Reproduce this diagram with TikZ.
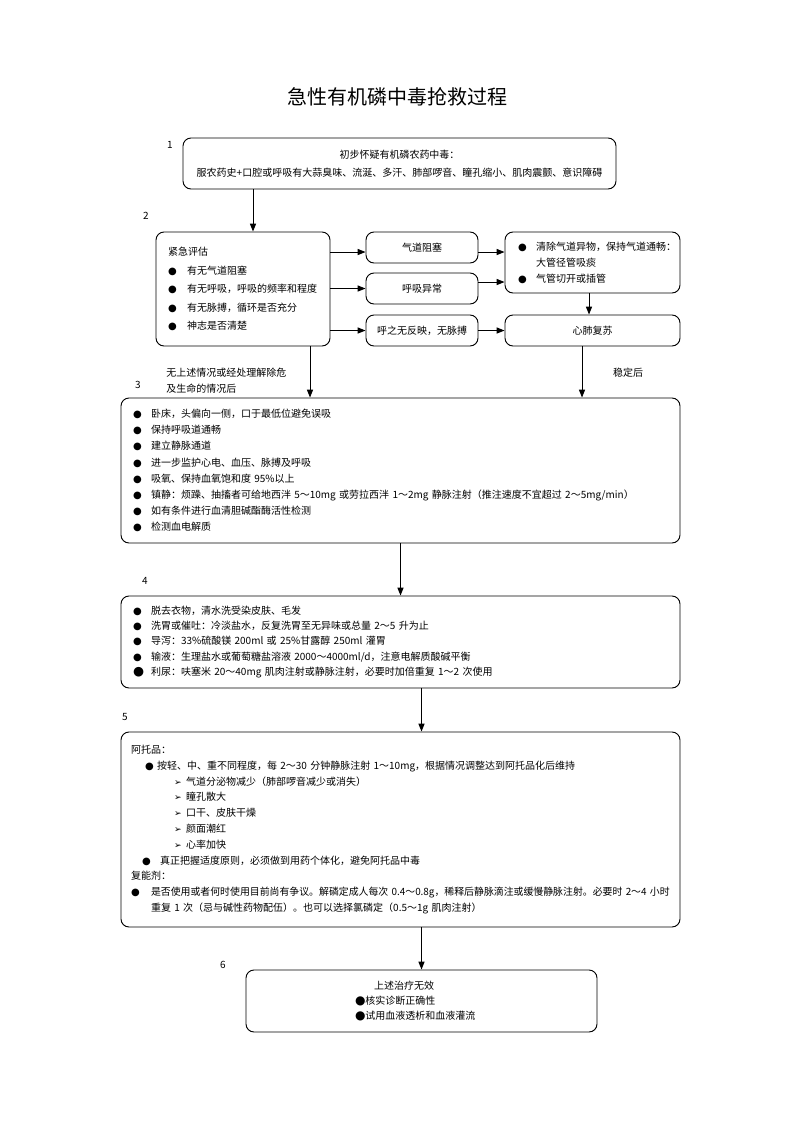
\documentclass[tikz,border=0pt]{standalone}
\usepackage{fontspec}
\setmainfont{Noto Sans CJK SC}
\newfontfamily\symf{DejaVu Sans}
\usepackage{tikz}
\usetikzlibrary{arrows.meta}
\newcommand{\bul}[1][13.5pt]{\makebox[#1][l]{\symf ●}}
\newcommand{\bigbul}{\makebox[13.5pt][l]{\fontsize{9.5pt}{9.5pt}\symf ●}}
\newcommand{\arw}{\makebox[9pt][l]{\fontsize{6.8pt}{6.8pt}\symf ➢}}

\begin{document}
\begin{tikzpicture}[
  x=0.75pt, y=-0.75pt,
  every node/.style={font=\fontsize{7.5pt}{9pt}\selectfont},
  box/.style={draw, line width=0.7pt, rounded corners=6pt, inner ysep=0pt},
  small/.style={box, minimum width=84pt, minimum height=23.25pt},
  wide/.style={box, minimum width=419.25pt, text width=401.25pt, inner xsep=9pt, align=left},
  txt/.style={inner sep=0pt},
  arrow/.style={-{Triangle[length=6pt,width=4.6pt]}, line width=0.7pt}
]
\useasboundingbox (0,0) rectangle (793,1122);

% Title
\node[txt, font=\fontsize{15pt}{18pt}\selectfont] (Title) at (397,97) {急性有机磷中毒抢救过程};

% Step numbers
\node[txt] (L1) at (170,145) {1};
\node[txt] (L2) at (146,216) {2};
\node[txt] (L3) at (138,385) {3};
\node[txt] (L4) at (145,581) {4};
\node[txt] (L5) at (125,717) {5};
\node[txt] (L6) at (223,965) {6};

% Layer 1: suspicion
\node[box, minimum width=324.75pt, minimum height=38.25pt, align=center, font=\fontsize{7.5pt}{13.5pt}\selectfont] (Suspect) at (399.5,163.5) {初步怀疑有机磷农药中毒：\\服农药史+口腔或呼吸有大蒜臭味、流涎、多汗、肺部啰音、瞳孔缩小、肌肉震颤、意识障碍};

% Layer 2: emergency assessment
\node[box, minimum width=130.5pt, minimum height=85.5pt, text width=112.5pt, inner xsep=9pt, align=left, font=\fontsize{7.5pt}{13.9pt}\selectfont] (Assess) at (243,289) {紧急评估\\\bul[14.25pt]有无气道阻塞\\\bul[14.25pt]有无呼吸，呼吸的频率和程度\\\bul[14.25pt]有无脉搏，循环是否充分\\\bul[14.25pt]神志是否清楚};

\node[small] (Airway) at (422,247.5) {气道阻塞};
\node[small] (Breath) at (422,288.5) {呼吸异常};
\node[small] (NoPulse) at (422,330.5) {呼之无反映，无脉搏};

\node[box, minimum width=131.25pt, minimum height=45.75pt, text width=111.75pt, inner xsep=9.75pt, align=left, font=\fontsize{7.5pt}{12pt}\selectfont] (Clear) at (592.5,262.5) {\bul 清除气道异物，保持气道通畅：\\\hspace*{13.5pt}大管径管吸痰\\\bul 气管切开或插管};
\node[box, minimum width=131.25pt, minimum height=23.25pt] (CPR) at (592.5,330.5) {心肺复苏};

\node[txt, anchor=west, align=left, font=\fontsize{7.5pt}{12pt}\selectfont] (Cond) at (166,381) {无上述情况或经处理解除危\\及生命的情况后};
\node[txt] (Stable) at (628,373) {稳定后};

% Layer 3: first aid
\node[wide, minimum height=108.75pt, font=\fontsize{7.5pt}{12.1pt}\selectfont] (FirstAid) at (400.5,470.5) {\bul 卧床，头偏向一侧，口于最低位避免误吸\\
\bul 保持呼吸道通畅\\
\bul 建立静脉通道\\
\bul 进一步监护心电、血压、脉搏及呼吸\\
\bul 吸氧、保持血氧饱和度 95\%以上\\
\bul 镇静：烦躁、抽搐者可给地西泮 5～10mg 或劳拉西泮 1～2mg 静脉注射（推注速度不宜超过 2～5mg/min）\\
\bul 如有条件进行血清胆碱酯酶活性检测\\
\bul 检测血电解质};

% Layer 4: decontamination
\node[wide, minimum height=69pt, font=\fontsize{7.5pt}{11.44pt}\selectfont] (Decon) at (400.5,642) {\bul 脱去衣物，清水洗受染皮肤、毛发\\
\bul 洗胃或催吐：冷淡盐水，反复洗胃至无异味或总量 2～5 升为止\\
\bul 导泻：33\%硫酸镁 200ml 或 25\%甘露醇 250ml 灌胃\\
\bul 输液：生理盐水或葡萄糖盐溶液 2000～4000ml/d，注意电解质酸碱平衡\\
\bigbul 利尿：呋塞米 20～40mg 肌肉注射或静脉注射，必要时加倍重复 1～2 次使用};

% Layer 5: antidotes
\node[wide, minimum height=146.25pt, inner xsep=7.5pt, text width=404.25pt, font=\fontsize{7.5pt}{11.85pt}\selectfont] (Antidote) at (400.5,829.5) {阿托品：\\
\hspace*{10.5pt}\bul[9pt]按轻、中、重不同程度，每 2～30 分钟静脉注射 1～10mg，根据情况调整达到阿托品化后维持\\
\hspace*{32.25pt}\arw 气道分泌物减少（肺部啰音减少或消失）\\
\hspace*{32.25pt}\arw 瞳孔散大\\
\hspace*{32.25pt}\arw 口干、皮肤干燥\\
\hspace*{32.25pt}\arw 颜面潮红\\
\hspace*{32.25pt}\arw 心率加快\\
\hspace*{8.25pt}\bul 真正把握适度原则，必须做到用药个体化，避免阿托品中毒\\
复能剂：\\
\bul[15pt]\resizebox{389pt}{\height}{是否使用或者何时使用目前尚有争议。解磷定成人每次 0.4～0.8g，稀释后静脉滴注或缓慢静脉注射。必要时 2～4 小时}\\
\hspace*{15pt}重复 1 次（忌与碱性药物配伍）。也可以选择氯磷定（0.5～1g 肌肉注射）};

% Layer 6: treatment failure
\node[box, minimum width=263.25pt, minimum height=46.5pt, text width=99.75pt, inner xsep=81.75pt, align=left, font=\fontsize{7.5pt}{11.6pt}\selectfont] (Fail) at (421.5,1001) {\hspace*{14.25pt}上述治疗无效\\{\fontsize{9pt}{9pt}\symf ●}核实诊断正确性\\{\fontsize{9pt}{9pt}\symf ●}试用血液透析和血液灌流};

% Connections - layers 1 and 2
\draw[arrow] (Suspect.south -| 253,0) -- (Assess.north -| 253,0);
\draw[arrow] (Assess.east |- 0,252) -- (Airway.west |- 0,252);
\draw[arrow] (Assess.east |- Breath) -- (Breath.west);
\draw[arrow] (Assess.east |- NoPulse) -- (NoPulse.west);
\draw[arrow] (Airway.east |- 0,252) -- (Clear.west |- 0,252);
\draw[arrow] (Breath.east |- 0,282) -- (Clear.west |- 0,282);
\draw[arrow] (NoPulse) -- (CPR);
\draw[arrow] (Clear.south -| 589,0) -- (CPR.north -| 589,0);

% Connections - down the main line
\draw[arrow] (Assess.south -| 310,0) -- (FirstAid.north -| 310,0);
\draw[arrow] (CPR.south -| 582,0) -- (FirstAid.north -| 582,0);
\draw[arrow] (FirstAid) -- (Decon);
\draw[arrow] (Decon.south -| Fail.north) -- (Antidote.north -| Fail.north);
\draw[arrow] (Antidote.south -| Fail.north) -- (Fail.north);

\end{tikzpicture}
\end{document}
